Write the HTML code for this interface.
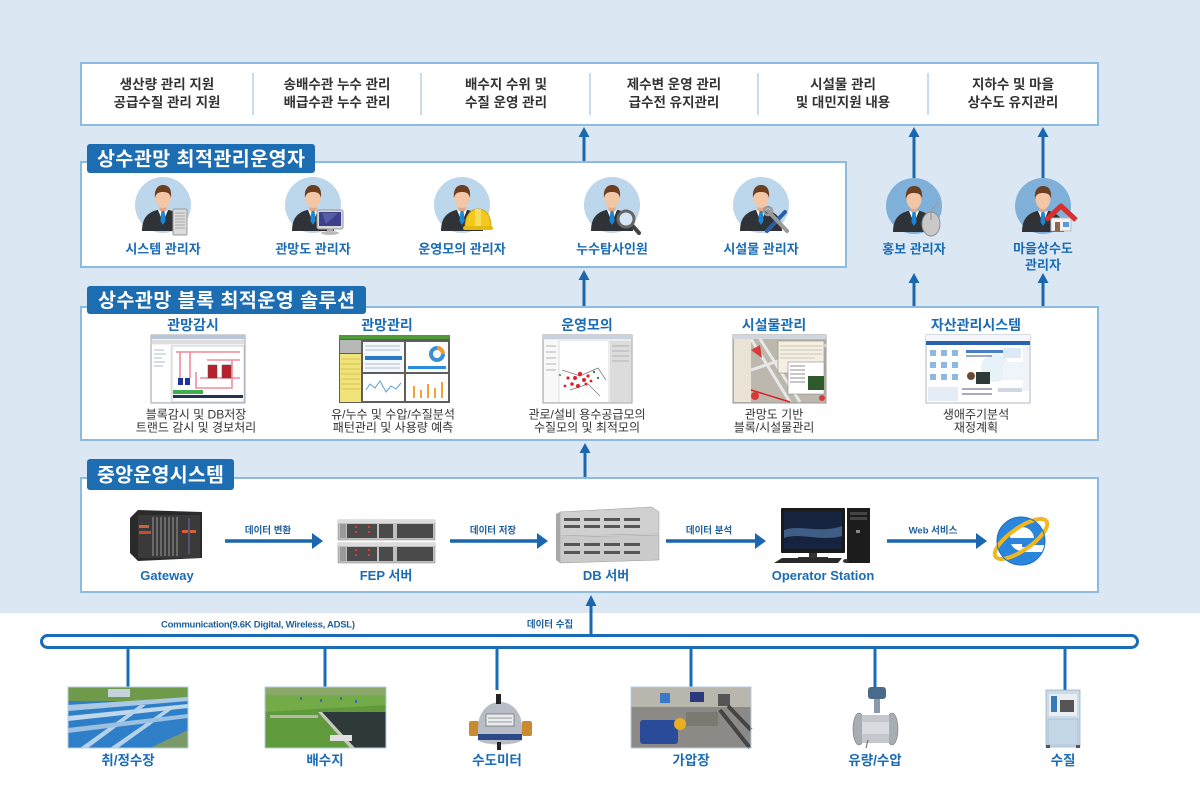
<!DOCTYPE html>
<html><head><meta charset="utf-8">
<style>
html,body{margin:0;padding:0;background:#fff;}
svg{display:block;}
text{font-family:"Liberation Sans","Noto Sans CJK KR",sans-serif;}
.tb{font-size:13.5px;font-weight:bold;fill:#333;}
.tab{font-size:19.5px;font-weight:bold;fill:#fff;}
.pl{font-size:13px;font-weight:bold;fill:#1b6cb6;}
.st{font-size:14px;font-weight:bold;fill:#1b6cb6;}
.sd{font-size:12px;fill:#333;}
.dl{font-size:13px;font-weight:bold;fill:#1b6cb6;}
.al{font-size:9.5px;font-weight:bold;fill:#1d5f9f;}
.bl{font-size:13.5px;font-weight:bold;fill:#1b6cb6;}
</style></head><body>
<svg width="1200" height="800" viewBox="0 0 1200 800" xmlns="http://www.w3.org/2000/svg">
<defs>
<g id="p">
 <path d="M-21,24 C-21,9 -13,5 -6,3 L6,3 C13,5 21,9 21,24 Z" fill="#2f3237"/>
 <path d="M-5,3 L5,3 L0,15 Z" fill="#fff"/>
 <path d="M-1.6,4 L1.6,4 L2.6,14 L0,18 L-2.6,14 Z" fill="#1a86d6"/>
 <rect x="-3.5" y="-2" width="7" height="6" fill="#e2a886"/>
 <ellipse cx="0" cy="-9" rx="7.5" ry="10" fill="#f3c6a6"/>
 <path d="M-8,-9 C-9,-19 -4,-22 0,-22 C5,-22 9,-19 8,-9 C7,-14 4,-15 0,-15 C-4,-15 -7,-14 -8,-9 Z" fill="#6b3f20"/>
</g>
</defs>

<!-- backgrounds -->
<rect x="0" y="0" width="1200" height="613" fill="#dbe8f4"/>
<rect x="0" y="613" width="1200" height="187" fill="#fff"/>

<!-- TOP BOX -->
<rect x="81" y="63" width="1017" height="62" fill="#fff" stroke="#8dbbe0" stroke-width="2"/>
<g stroke="#b7d1e8" stroke-width="1.5">
<line x1="253" y1="73" x2="253" y2="115"/>
<line x1="421" y1="73" x2="421" y2="115"/>
<line x1="590" y1="73" x2="590" y2="115"/>
<line x1="758" y1="73" x2="758" y2="115"/>
<line x1="928" y1="73" x2="928" y2="115"/>
</g>
<g text-anchor="middle" class="tb">
<text x="167" y="89" class="tb">생산량 관리 지원</text>
<text x="167" y="107" class="tb">공급수질 관리 지원</text>
<text x="337" y="89" class="tb">송배수관 누수 관리</text>
<text x="337" y="107" class="tb">배급수관 누수 관리</text>
<text x="506" y="89" class="tb">배수지 수위 및</text>
<text x="506" y="107" class="tb">수질 운영 관리</text>
<text x="674" y="89" class="tb">제수변 운영 관리</text>
<text x="674" y="107" class="tb">급수전 유지관리</text>
<text x="843" y="89" class="tb">시설물 관리</text>
<text x="843" y="107" class="tb">및 대민지원 내용</text>
<text x="1013" y="89" class="tb">지하수 및 마을</text>
<text x="1013" y="107" class="tb">상수도 유지관리</text>
</g>

<!-- ARROWS (vertical) -->
<g stroke="#1a67b0" stroke-width="3">
<line x1="584" y1="162" x2="584" y2="135"/>
<line x1="914" y1="180" x2="914" y2="135"/>
<line x1="1043" y1="180" x2="1043" y2="135"/>
<line x1="584" y1="307" x2="584" y2="278"/>
<line x1="914" y1="307" x2="914" y2="281"/>
<line x1="1043" y1="307" x2="1043" y2="281"/>
<line x1="585" y1="478" x2="585" y2="451"/>
<line x1="591" y1="636" x2="591" y2="604"/>
</g>
<g fill="#1a67b0">
<polygon points="578.5,137 589.5,137 584,127"/>
<polygon points="908.5,137 919.5,137 914,127"/>
<polygon points="1037.5,137 1048.5,137 1043,127"/>
<polygon points="578.5,280 589.5,280 584,270"/>
<polygon points="908.5,283 919.5,283 914,273"/>
<polygon points="1037.5,283 1048.5,283 1043,273"/>
<polygon points="579.5,453 590.5,453 585,443"/>
<polygon points="585.5,606 596.5,606 591,595"/>
</g>

<!-- OPERATOR BOX -->
<rect x="81" y="162" width="765" height="105" fill="#fff" stroke="#8dbbe0" stroke-width="2"/>
<rect x="87" y="144" width="228" height="29" rx="3" fill="#1d6db3"/>
<text x="201" y="165.5" text-anchor="middle" class="tab" textLength="208">상수관망 최적관리운영자</text>

<!-- persons -->
<g>
<circle cx="163" cy="205" r="28" fill="#bcd6ec"/><use href="#p" x="163" y="207"/>
<circle cx="313" cy="205" r="28" fill="#bcd6ec"/><use href="#p" x="313" y="207"/>
<circle cx="462" cy="205" r="28" fill="#bcd6ec"/><use href="#p" x="462" y="207"/>
<circle cx="612" cy="205" r="28" fill="#bcd6ec"/><use href="#p" x="612" y="207"/>
<circle cx="761" cy="205" r="28" fill="#bcd6ec"/><use href="#p" x="761" y="207"/>
<circle cx="914" cy="206" r="28" fill="#7eb0d9"/><use href="#p" x="914" y="208"/>
<circle cx="1043" cy="206" r="28" fill="#7eb0d9"/><use href="#p" x="1043" y="208"/>
</g>
<!-- accessories -->
<g transform="translate(180,222)">
<rect x="-7" y="-13" width="14" height="26" rx="1.5" fill="#dcdcdc" stroke="#9a9a9a"/>
<g stroke="#a8a8a8" stroke-width="1"><line x1="-5" y1="-9" x2="5" y2="-9"/><line x1="-5" y1="-6" x2="5" y2="-6"/><line x1="-5" y1="-3" x2="5" y2="-3"/><line x1="-5" y1="0" x2="5" y2="0"/><line x1="-5" y1="3" x2="5" y2="3"/><line x1="-5" y1="6" x2="5" y2="6"/></g>
</g>
<g transform="translate(330,219)">
<rect x="-13" y="-9" width="26" height="19" rx="2" fill="#d8d8d8" stroke="#999"/>
<rect x="-11" y="-7" width="22" height="14" fill="#3b3f8c"/>
<path d="M-8,-6 L8,-6 L-4,5 Z" fill="#6a6fb8" opacity="0.6"/>
<rect x="-3" y="10" width="6" height="3" fill="#aaa"/>
<ellipse cx="0" cy="14" rx="9" ry="2" fill="#bbb"/>
</g>
<g transform="translate(478,221)">
<path d="M-13,7 C-13,-6 -7,-12 0,-12 C8,-12 13,-6 13,7 Z" fill="#f2c91c" stroke="#c9a010"/>
<rect x="-15" y="5" width="30" height="4" rx="2" fill="#e5b812"/>
<path d="M-3,-12 L3,-12 L3,5 L-3,5 Z" fill="#f8de5a"/>
</g>
<g transform="translate(626,219)">
<line x1="5" y1="5" x2="13" y2="14" stroke="#444" stroke-width="4" stroke-linecap="round"/>
<circle cx="0" cy="0" r="8" fill="#d4e6f4" stroke="#666" stroke-width="3"/>
</g>
<g transform="translate(777,220)">
<line x1="-10" y1="11" x2="8" y2="-8" stroke="#2a5fa8" stroke-width="4" stroke-linecap="round"/>
<line x1="-9" y1="-9" x2="10" y2="11" stroke="#9a9a9a" stroke-width="4" stroke-linecap="round"/>
<circle cx="-9" cy="-9" r="4" fill="none" stroke="#9a9a9a" stroke-width="2.5"/>
</g>
<g transform="translate(931,222)">
<ellipse cx="0" cy="2" rx="9" ry="12" fill="#c9c9c9" stroke="#8f8f8f"/>
<line x1="0" y1="-10" x2="0" y2="-2" stroke="#8f8f8f"/>
<path d="M0,-10 C2,-16 6,-17 8,-20" stroke="#999" fill="none"/>
</g>
<g transform="translate(1061,218)">
<rect x="-10" y="0" width="20" height="13" fill="#f2f2f2" stroke="#bbb"/>
<path d="M-15,2 L0,-12 L15,2" fill="none" stroke="#d8302c" stroke-width="5" stroke-linejoin="round"/>
<rect x="-6" y="4" width="5" height="9" fill="#8b6a4a"/>
<rect x="2" y="4" width="6" height="5" fill="#5a9ad8"/>
</g>

<g text-anchor="middle">
<text x="163" y="253.5" class="pl">시스템 관리자</text>
<text x="313" y="253.5" class="pl">관망도 관리자</text>
<text x="462" y="253.5" class="pl">운영모의 관리자</text>
<text x="612" y="253.5" class="pl">누수탐사인원</text>
<text x="761" y="253.5" class="pl">시설물 관리자</text>
<text x="914" y="253.5" class="pl">홍보 관리자</text>
<text x="1043" y="253" class="pl">마을상수도</text>
<text x="1043" y="269.5" class="pl">관리자</text>
</g>

<!-- SOLUTION BOX -->
<rect x="81" y="307" width="1017" height="133" fill="#fff" stroke="#8dbbe0" stroke-width="2"/>
<rect x="87" y="286" width="279" height="28" rx="3" fill="#1d6db3"/>
<text x="226.5" y="307" text-anchor="middle" class="tab" textLength="257">상수관망 블록 최적운영 솔루션</text>

<g text-anchor="middle">
<text x="193" y="330" class="st">관망감시</text>
<text x="387" y="330" class="st">관망관리</text>
<text x="587" y="330" class="st">운영모의</text>
<text x="774" y="330" class="st">시설물관리</text>
<text x="976" y="330" class="st">자산관리시스템</text>
<text x="196" y="418.5" class="sd">블록감시 및 DB저장</text>
<text x="196" y="431.5" class="sd">트랜드 감시 및 경보처리</text>
<text x="393" y="418.5" class="sd">유/누수 및 수압/수질분석</text>
<text x="393" y="431.5" class="sd">패턴관리 및 사용량 예측</text>
<text x="587" y="418.5" class="sd">관로/설비 용수공급모의</text>
<text x="587" y="431.5" class="sd">수질모의 및  최적모의</text>
<text x="774" y="418.5" class="sd">관망도 기반</text>
<text x="774" y="431.5" class="sd">블록/시설물관리</text>
<text x="976" y="418.5" class="sd">생애주기분석</text>
<text x="976" y="431.5" class="sd">재정계획</text>
</g>

<!-- screenshot 1 -->
<g>
<rect x="151" y="335" width="94" height="68" fill="#f2f2f2" stroke="#a0a8b4"/>
<rect x="151" y="335" width="94" height="4" fill="#b9c6d8"/>
<rect x="152" y="340" width="92" height="4" fill="#dedede"/>
<rect x="152" y="345" width="18" height="57" fill="#fff"/>
<g stroke="#9ab" stroke-width="0.8"><line x1="154" y1="350" x2="164" y2="350"/><line x1="154" y1="354" x2="166" y2="354"/><line x1="154" y1="358" x2="162" y2="358"/><line x1="154" y1="362" x2="165" y2="362"/><line x1="154" y1="366" x2="163" y2="366"/></g>
<rect x="172" y="346" width="72" height="56" fill="#fff" stroke="#9ab" stroke-width="0.5"/>
<g fill="none" stroke="#f28a9c" stroke-width="1.6">
<path d="M176,352 L240,352"/><path d="M180,352 L180,378"/><path d="M190,352 L190,378"/>
<path d="M196,372 L196,388 L232,388 L232,360"/><path d="M207,360 L240,360"/><path d="M200,378 L240,378"/>
</g>
<rect x="178" y="378" width="5" height="7" fill="#22339a"/><rect x="185" y="378" width="5" height="7" fill="#22339a"/>
<rect x="208" y="365" width="9" height="13" fill="#b8202c" stroke="#555" stroke-width="0.5"/>
<rect x="222" y="365" width="9" height="13" fill="#b8202c" stroke="#555" stroke-width="0.5"/>
<rect x="173" y="390" width="30" height="4" fill="#3fae4f"/>
<rect x="173" y="395" width="70" height="3" fill="#223355"/>
</g>

<!-- screenshot 2 -->
<g>
<rect x="339" y="335" width="111" height="68" fill="#5e5e5e"/>
<rect x="339" y="335" width="111" height="4" fill="#4e9b38"/>
<rect x="340" y="340" width="21" height="13" fill="#b8b8b8"/>
<rect x="340" y="354" width="21" height="48" fill="#f2e27a"/>
<g stroke="#c9b84a" stroke-width="0.8"><line x1="341" y1="359" x2="360" y2="359"/><line x1="341" y1="364" x2="360" y2="364"/><line x1="341" y1="369" x2="360" y2="369"/><line x1="341" y1="374" x2="360" y2="374"/><line x1="341" y1="379" x2="360" y2="379"/><line x1="341" y1="384" x2="360" y2="384"/><line x1="341" y1="389" x2="360" y2="389"/></g>
<rect x="363" y="342" width="41" height="30" fill="#f4f7fb"/>
<rect x="406" y="342" width="42" height="30" fill="#fff"/>
<rect x="363" y="374" width="41" height="27" fill="#fff"/>
<rect x="406" y="374" width="42" height="27" fill="#fff"/>
<rect x="365" y="356" width="37" height="4" fill="#2a78c8"/>
<g stroke="#9ab" stroke-width="0.8"><line x1="365" y1="346" x2="400" y2="346"/><line x1="365" y1="350" x2="400" y2="350"/><line x1="365" y1="364" x2="400" y2="364"/><line x1="365" y1="368" x2="400" y2="368"/></g>
<circle cx="437" cy="354" r="6" fill="none" stroke="#3a8fd8" stroke-width="4"/>
<path d="M437,348 A6,6 0 0 1 443,354" fill="none" stroke="#f29a2e" stroke-width="4"/>
<rect x="408" y="366" width="38" height="3" fill="#2a8fd8"/>
<polyline points="366,390 370,384 375,388 380,381 386,392 391,386 396,389 401,383" fill="none" stroke="#5b9ed8" stroke-width="1"/>
<g fill="#f2a23a"><rect x="413" y="386" width="2" height="12"/><rect x="420" y="390" width="2" height="8"/><rect x="427" y="384" width="2" height="14"/><rect x="434" y="388" width="2" height="10"/><rect x="441" y="382" width="2" height="16"/></g>
</g>

<!-- screenshot 3 -->
<g>
<rect x="543" y="335" width="89" height="68" fill="#ececec" stroke="#a0a0a0"/>
<rect x="543" y="335" width="89" height="4" fill="#c9d3e0"/>
<rect x="544" y="340" width="14" height="62" fill="#f8f8f8"/>
<rect x="560" y="341" width="48" height="61" fill="#fff"/>
<rect x="610" y="341" width="21" height="61" fill="#dcdcdc"/>
<g stroke="#888" stroke-width="0.6"><line x1="612" y1="346" x2="629" y2="346"/><line x1="612" y1="351" x2="629" y2="351"/><line x1="612" y1="356" x2="629" y2="356"/><line x1="612" y1="361" x2="629" y2="361"/><line x1="546" y1="346" x2="556" y2="346"/><line x1="546" y1="352" x2="556" y2="352"/><line x1="546" y1="358" x2="556" y2="358"/><line x1="546" y1="364" x2="556" y2="364"/><line x1="546" y1="370" x2="556" y2="370"/></g>
<path d="M562,370 L580,376 L598,368 L606,380 M570,390 L588,384 L600,396" stroke="#777" stroke-width="0.7" fill="none"/>
<g fill="#e0202a"><circle cx="575" cy="378" r="2"/><circle cx="580" cy="374" r="2.2"/><circle cx="584" cy="380" r="2"/><circle cx="572" cy="384" r="1.8"/><circle cx="588" cy="376" r="1.6"/><circle cx="578" cy="386" r="2"/><circle cx="568" cy="378" r="1.6"/><circle cx="586" cy="384" r="1.5"/><circle cx="591" cy="381" r="1.4"/><circle cx="565" cy="386" r="1.4"/></g>
<g fill="#2f8f3f"><circle cx="594" cy="372" r="1.2"/><circle cx="598" cy="378" r="1.2"/><circle cx="560" cy="375" r="1"/></g>
</g>

<!-- screenshot 4 -->
<g>
<rect x="733" y="335" width="93" height="68" fill="#bdb8ae" stroke="#9a9a9a"/>
<rect x="733" y="335" width="93" height="4" fill="#cfd6de"/>
<rect x="734" y="339" width="17" height="63" fill="#e9e4d6"/>
<path d="M751,339 L790,402 M760,339 L800,402 M751,370 L826,345" stroke="#e8e8e8" stroke-width="3" fill="none"/>
<path d="M751,390 L790,402" stroke="#d22" stroke-width="1.5"/>
<rect x="778" y="341" width="46" height="32" fill="#f4efe0" stroke="#777" stroke-width="0.5"/>
<g stroke="#999" stroke-width="0.6"><line x1="780" y1="346" x2="822" y2="346"/><line x1="780" y1="350" x2="822" y2="350"/><line x1="780" y1="354" x2="822" y2="354"/><line x1="780" y1="358" x2="815" y2="358"/></g>
<rect x="788" y="362" width="36" height="32" fill="#fff" stroke="#777" stroke-width="0.5"/>
<g stroke="#444" stroke-width="0.6"><line x1="790" y1="366" x2="805" y2="366"/><line x1="790" y1="370" x2="805" y2="370"/><line x1="790" y1="374" x2="805" y2="374"/><line x1="790" y1="378" x2="805" y2="378"/><line x1="790" y1="382" x2="805" y2="382"/></g>
<rect x="808" y="376" width="16" height="14" fill="#2d5a2a"/>
<path d="M751,350 L760,345 L762,358 Z" fill="#d83a3a"/>
<circle cx="755" cy="396" r="4" fill="#d83a3a"/>
<circle cx="822" cy="398" r="3" fill="#d83a3a"/>
</g>

<!-- screenshot 5 -->
<g>
<rect x="926" y="335" width="104" height="68" fill="#fff" stroke="#b0b8c4"/>
<rect x="926" y="335" width="104" height="6" fill="#f4f6fa"/>
<rect x="926" y="341" width="104" height="4" fill="#2a62ad"/>
<g fill="#8fb8e0"><rect x="930" y="350" width="6" height="6"/><rect x="941" y="350" width="6" height="6"/><rect x="952" y="350" width="6" height="6"/><rect x="930" y="362" width="6" height="6"/><rect x="941" y="362" width="6" height="6"/><rect x="952" y="362" width="6" height="6"/><rect x="930" y="374" width="6" height="6"/><rect x="941" y="374" width="6" height="6"/><rect x="952" y="374" width="6" height="6"/></g>
<circle cx="995" cy="368" r="14" fill="#e6f1f8"/>
<rect x="966" y="350" width="38" height="3" fill="#4a7fc8"/>
<rect x="966" y="355" width="26" height="2" fill="#9ab"/>
<rect x="976" y="372" width="14" height="12" fill="#2d3a36"/>
<circle cx="971" cy="376" r="4" fill="#6b4a32"/>
<rect x="1003" y="348" width="18" height="10" fill="#dbeaf6"/>
<rect x="1003" y="362" width="20" height="18" fill="#eef4fa"/>
<rect x="1023" y="345" width="6" height="46" fill="#f0f4f8"/>
<rect x="928" y="387" width="30" height="14" fill="#e4edf6"/>
<rect x="962" y="388" width="30" height="2" fill="#aab"/>
<rect x="962" y="393" width="30" height="2" fill="#aab"/>
<rect x="998" y="388" width="24" height="4" fill="#cfd8e2"/>
</g>

<!-- CENTRAL BOX -->
<rect x="81" y="478" width="1017" height="114" fill="#fff" stroke="#8dbbe0" stroke-width="2"/>
<rect x="87" y="459" width="147" height="31" rx="3" fill="#1d6db3"/>
<text x="160.5" y="481.5" text-anchor="middle" class="tab" textLength="127">중앙운영시스템</text>

<!-- gateway -->
<g>
<path d="M130,518 L138,510 L202,512 L202,558 L138,561 L130,553 Z" fill="#2a2a2a"/>
<rect x="138" y="515" width="62" height="43" fill="#3a3a3a"/>
<g fill="#6a6a6a"><rect x="152" y="517" width="2" height="39"/><rect x="156" y="517" width="2" height="39"/><rect x="160" y="517" width="2" height="39"/><rect x="164" y="517" width="2" height="39"/><rect x="168" y="517" width="2" height="39"/><rect x="172" y="517" width="2" height="39"/><rect x="176" y="517" width="2" height="39"/></g>
<rect x="139" y="525" width="10" height="3" fill="#d2603a"/>
<rect x="139" y="531" width="12" height="3" fill="#c84a2a"/>
<rect x="182" y="530" width="14" height="3" fill="#d2603a"/>
<rect x="188" y="518" width="2" height="36" fill="#557"/>
</g>
<!-- FEP -->
<g>
<rect x="338" y="520" width="97" height="20" fill="#bfbfbf" stroke="#888" stroke-width="0.5"/>
<rect x="338" y="543" width="97" height="20" fill="#bfbfbf" stroke="#888" stroke-width="0.5"/>
<rect x="338" y="520" width="97" height="3" fill="#dcdcdc"/>
<rect x="338" y="543" width="97" height="3" fill="#dcdcdc"/>
<g fill="#4a4a4a"><rect x="347" y="524" width="30" height="14"/><rect x="379" y="524" width="14" height="14"/><rect x="397" y="524" width="36" height="14"/><rect x="347" y="547" width="30" height="14"/><rect x="379" y="547" width="14" height="14"/><rect x="397" y="547" width="36" height="14"/></g>
<g fill="#e03a3a"><rect x="355" y="526" width="2" height="2"/><rect x="355" y="531" width="2" height="2"/><rect x="368" y="526" width="2" height="2"/><rect x="368" y="531" width="2" height="2"/><rect x="355" y="549" width="2" height="2"/><rect x="355" y="554" width="2" height="2"/><rect x="368" y="549" width="2" height="2"/><rect x="368" y="554" width="2" height="2"/></g>
<rect x="340" y="524" width="6" height="14" fill="#999"/>
<rect x="340" y="547" width="6" height="14" fill="#999"/>
</g>
<!-- DB -->
<g>
<path d="M560,512 L652,507 L659,512 L659,534 L560,536 Z" fill="#d0d0d0" stroke="#999" stroke-width="0.5"/>
<path d="M560,537 L659,535 L659,560 L560,563 Z" fill="#cacaca" stroke="#999" stroke-width="0.5"/>
<path d="M556,514 L560,512 L560,563 L556,560 Z" fill="#a8a8a8"/>
<g fill="#555"><rect x="564" y="518" width="16" height="3"/><rect x="584" y="518" width="16" height="3"/><rect x="604" y="518" width="16" height="3"/><rect x="624" y="518" width="16" height="3"/><rect x="564" y="525" width="16" height="3"/><rect x="584" y="525" width="16" height="3"/><rect x="604" y="525" width="16" height="3"/><rect x="624" y="525" width="16" height="3"/><rect x="564" y="543" width="16" height="3"/><rect x="584" y="543" width="16" height="3"/><rect x="604" y="543" width="16" height="3"/><rect x="624" y="543" width="16" height="3"/><rect x="564" y="551" width="16" height="3"/><rect x="584" y="551" width="16" height="3"/><rect x="604" y="551" width="16" height="3"/><rect x="624" y="551" width="16" height="3"/></g>
</g>
<!-- operator station -->
<g>
<rect x="781" y="508" width="64" height="45" rx="1" fill="#1a1a1a"/>
<rect x="784" y="511" width="58" height="38" fill="#15233f"/>
<path d="M784,530 C800,524 820,534 842,526 L842,536 C820,542 800,532 784,538 Z" fill="#4b6b99" opacity="0.8"/>
<rect x="809" y="553" width="8" height="5" fill="#333"/>
<rect x="798" y="557" width="30" height="2" fill="#333"/>
<rect x="847" y="508" width="23" height="55" fill="#1c1c1c"/>
<rect x="850" y="512" width="17" height="3" fill="#444"/>
<rect x="850" y="517" width="17" height="3" fill="#444"/>
<rect x="856" y="530" width="4" height="3" fill="#888"/>
<path d="M774,563 L782,558 L842,558 L838,563 Z" fill="#2a2a2a"/>
<ellipse cx="846" cy="561" rx="3" ry="2" fill="#333"/>
</g>
<!-- IE -->
<g>
<circle cx="1021" cy="541" r="24" fill="#2a85dc"/>
<circle cx="1022" cy="539" r="12" fill="#fff"/>
<rect x="1009" y="538" width="36" height="6" fill="#2a85dc"/>
<rect x="1022" y="545" width="26" height="7" fill="#fff"/>
<rect x="1022" y="544" width="10" height="3" fill="#2a85dc"/>
<ellipse cx="1021" cy="539" rx="31" ry="11" transform="rotate(-35 1021 539)" fill="none" stroke="#f2b61e" stroke-width="4"/>
<circle cx="1021" cy="541" r="24" fill="none" stroke="#1f6fc2" stroke-width="1"/>
</g>

<!-- horizontal arrows -->
<g stroke="#1a67b0" stroke-width="3.5">
<line x1="225" y1="541" x2="313" y2="541"/>
<line x1="450" y1="541" x2="538" y2="541"/>
<line x1="666" y1="541" x2="756" y2="541"/>
<line x1="887" y1="541" x2="977" y2="541"/>
</g>
<g fill="#1a67b0">
<polygon points="312,533 312,549 323,541"/>
<polygon points="537,533 537,549 548,541"/>
<polygon points="755,533 755,549 766,541"/>
<polygon points="976,533 976,549 987,541"/>
</g>
<g text-anchor="middle">
<text x="268" y="533.5" class="al">데이터 변환</text>
<text x="493" y="533.5" class="al">데이터 저장</text>
<text x="709" y="533.5" class="al">데이터 분석</text>
<text x="933" y="533.5" class="al">Web 서비스</text>
<text x="167" y="580" class="dl">Gateway</text>
<text x="386" y="580" class="dl">FEP 서버</text>
<text x="606" y="580" class="dl">DB 서버</text>
<text x="823" y="580" class="dl">Operator Station</text>
</g>

<!-- BUS -->
<text x="258" y="627.5" text-anchor="middle" style="font-size:9.5px;font-weight:bold;fill:#1d5f9f" textLength="194">Communication(9.6K Digital, Wireless, ADSL)</text>
<text x="550" y="627.5" text-anchor="middle" class="al">데이터 수집</text>
<rect x="41.5" y="635.5" width="1096" height="12" rx="6" fill="#fff" stroke="#1a6db5" stroke-width="3"/>
<g stroke="#1a6db5" stroke-width="3">
<line x1="128" y1="649" x2="128" y2="688"/>
<line x1="325" y1="649" x2="325" y2="688"/>
<line x1="497" y1="649" x2="497" y2="690"/>
<line x1="691" y1="649" x2="691" y2="688"/>
<line x1="875" y1="649" x2="875" y2="688"/>
<line x1="1065" y1="649" x2="1065" y2="690"/>
</g>

<!-- 취/정수장 -->
<g>
<rect x="68" y="687" width="120" height="61" fill="#2f7fc8"/>
<rect x="68" y="687" width="120" height="14" fill="#6f9a4a"/>
<rect x="108" y="689" width="22" height="8" fill="#c8d2dc"/>
<path d="M68,705 L188,697 L188,701 L68,711 Z" fill="#a9c9e4"/>
<path d="M68,716 L188,704 L188,708 L68,721 Z" fill="#c0d8ec"/>
<path d="M80,748 L140,705 L146,705 L88,748 Z" fill="#b5d2ea"/>
<path d="M110,748 L165,710 L171,710 L118,748 Z" fill="#b5d2ea"/>
<path d="M68,728 L188,714 L188,718 L68,733 Z" fill="#9cc0e0"/>
<path d="M150,748 L188,730 L188,748 Z" fill="#7a9a6a"/>
<rect x="68" y="687" width="120" height="61" fill="none" stroke="#b5cde3"/>
</g>
<!-- 배수지 -->
<g>
<rect x="265" y="687" width="121" height="61" fill="#5f9a3c"/>
<rect x="265" y="687" width="121" height="8" fill="#8aa86a"/>
<path d="M265,695 L386,695 L386,705 L265,712 Z" fill="#72ab48"/>
<path d="M322,712 L386,712 L386,748 L355,748 Z" fill="#2e3a3a"/>
<path d="M318,712 L322,712 L355,748 L350,748 Z" fill="#c8c8c0"/>
<rect x="270" y="715" width="48" height="3" fill="#b8b8a8"/>
<rect x="330" y="735" width="22" height="6" fill="#e0e0e0"/>
<g fill="#3a6ab8"><rect x="300" y="697" width="2" height="3"/><rect x="320" y="699" width="2" height="3"/><rect x="340" y="697" width="2" height="3"/><rect x="355" y="700" width="2" height="3"/></g>
<rect x="265" y="687" width="121" height="61" fill="none" stroke="#b5cde3"/>
</g>
<!-- 수도미터 -->
<g>
<rect x="469" y="721" width="10" height="15" rx="2" fill="#c98a30"/>
<rect x="522" y="721" width="10" height="15" rx="2" fill="#c98a30"/>
<path d="M478,728 C478,712 488,702 500,702 C512,702 522,712 522,728 L522,740 C516,746 484,746 478,740 Z" fill="#b8bcc4"/>
<rect x="478" y="734" width="44" height="6" fill="#2a4a8a"/>
<rect x="486" y="714" width="28" height="12" fill="#e8ecef" stroke="#666" stroke-width="0.7"/>
<g stroke="#444" stroke-width="0.6"><line x1="488" y1="718" x2="512" y2="718"/><line x1="488" y1="722" x2="512" y2="722"/></g>
<rect x="496" y="694" width="5" height="10" fill="#222"/>
<rect x="497" y="742" width="4" height="8" fill="#222"/>
</g>
<!-- 가압장 -->
<g>
<rect x="631" y="687" width="120" height="61" fill="#8c8a86"/>
<rect x="631" y="687" width="120" height="20" fill="#b9b6ae"/>
<rect x="640" y="720" width="38" height="24" rx="3" fill="#2a4a9a"/>
<circle cx="680" cy="724" r="6" fill="#e8b020"/>
<rect x="686" y="712" width="32" height="14" fill="#7a7a72"/>
<rect x="660" y="693" width="10" height="10" fill="#3a78c8"/>
<rect x="690" y="692" width="14" height="10" fill="#2a3a7a"/>
<rect x="718" y="694" width="12" height="12" fill="#555"/>
<path d="M720,710 L750,748 M728,706 L751,730" stroke="#444" stroke-width="4"/>
<rect x="631" y="687" width="120" height="61" fill="none" stroke="#b5cde3"/>
</g>
<!-- 유량/수압 -->
<g>
<rect x="868" y="687" width="18" height="12" rx="3" fill="#4a6a8a"/>
<rect x="874" y="699" width="6" height="14" fill="#8a9aaa"/>
<ellipse cx="859" cy="729" rx="6" ry="16" fill="#a8adb4" stroke="#777" stroke-width="0.6"/>
<ellipse cx="892" cy="729" rx="6" ry="16" fill="#a8adb4" stroke="#777" stroke-width="0.6"/>
<rect x="862" y="715" width="27" height="28" fill="#c4c8ce"/>
<rect x="862" y="722" width="27" height="12" fill="#d8dce0"/>
<line x1="868" y1="740" x2="866" y2="748" stroke="#666"/>
</g>
<!-- 수질 -->
<g>
<rect x="1046" y="690" width="34" height="57" fill="#cbdbe8" stroke="#8fa5b8" stroke-width="0.7"/>
<rect x="1049" y="694" width="28" height="22" fill="#e8eef2"/>
<rect x="1051" y="696" width="6" height="16" fill="#3a7ab8"/>
<rect x="1060" y="700" width="14" height="12" fill="#555"/>
<rect x="1048" y="719" width="30" height="26" fill="#c2d6e6" stroke="#99afc2" stroke-width="0.5"/>
<rect x="1046" y="745" width="4" height="3" fill="#555"/>
<rect x="1076" y="745" width="4" height="3" fill="#555"/>
</g>

<g text-anchor="middle">
<text x="128" y="765" class="bl">취/정수장</text>
<text x="325" y="765" class="bl">배수지</text>
<text x="497" y="765" class="bl">수도미터</text>
<text x="691" y="765" class="bl">가압장</text>
<text x="875" y="765" class="bl">유량/수압</text>
<text x="1063" y="765" class="bl">수질</text>
</g>
</svg>
</body></html>
